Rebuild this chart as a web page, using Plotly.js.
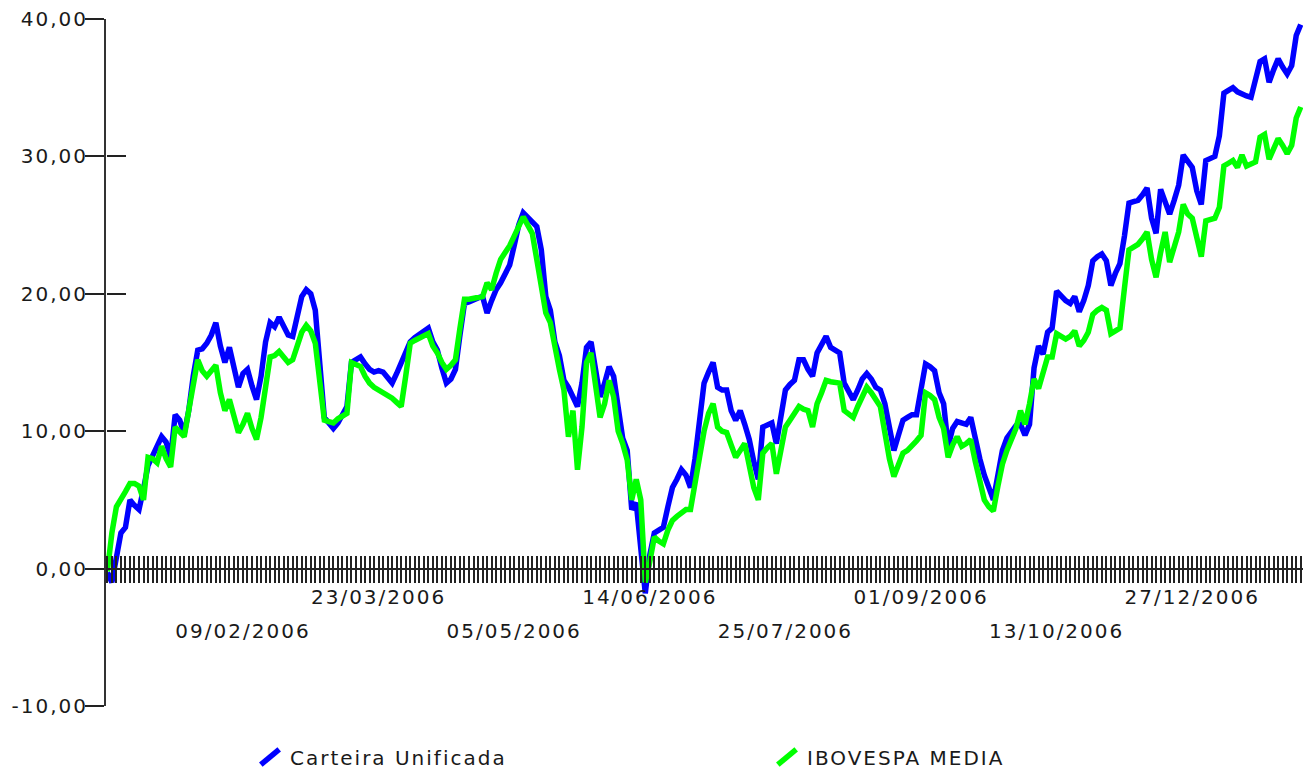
<!DOCTYPE html>
<html>
<head>
<meta charset="utf-8">
<script src="https://cdn.plot.ly/plotly-3.0.1.min.js"></script>
<style>
  html, body { margin: 0; padding: 0; background: #fff; }
  #chart { width: 1308px; height: 769px; }
  .xtick text, .x2tick text, .ytick text, .legendtext { letter-spacing: 2px; }
  .legendlines path { transform-box: fill-box; transform-origin: center; transform: rotate(-40deg) scaleX(0.8); }
</style>
</head>
<body>
<div id="chart"></div>
<script>
// Series values (percent), one per trading day
const carteira = [
  -0.3, -1.0, 0.8, 2.6, 3.0, 5.0, 4.6, 4.3, 5.8, 7.5,
  8.2, 9.0, 9.6, 9.2, 8.1, 11.2, 10.8, 9.8, 11.5, 14.0,
  15.9, 16.0, 16.4, 17.0, 17.9, 16.2, 15.0, 16.1, 14.5, 13.2,
  14.2, 14.5, 13.3, 12.3, 14.0, 16.5, 17.9, 17.6, 18.3, 17.6,
  17.0, 16.9, 18.5, 19.8, 20.3, 20.0, 18.8, 14.5, 11.0, 10.6,
  10.2, 10.6, 11.2, 11.8, 15.0, 15.2, 15.4, 14.9, 14.5, 14.3,
  14.4, 14.3, 13.9, 13.5, 14.2, 15.0, 15.7, 16.5, 16.8, 17.0,
  17.3, 17.5, 16.5, 15.9, 14.6, 13.5, 13.8, 14.5, 17.0, 19.3,
  19.4, 19.6, 19.7, 19.8, 18.6, 19.5, 20.3, 20.8, 21.5, 22.1,
  23.5, 25.0, 25.9, 25.6, 25.2, 24.9, 23.2, 19.8, 18.8, 16.5,
  15.5, 13.7, 13.2, 12.5, 11.8, 13.5, 16.1, 16.5, 14.5, 12.5,
  13.5, 14.7, 14.0, 11.8, 9.5, 8.6, 4.3, 4.8, 1.4, -1.8,
  1.0, 2.6, 2.8, 3.0, 4.5, 5.9, 6.5, 7.2, 6.8, 5.9,
  8.0, 10.6, 13.5, 14.3, 15.0, 13.2, 13.0, 13.0, 11.5, 10.8,
  11.5, 10.5, 9.4, 7.8, 6.5, 10.3, 10.5, 10.6, 9.1, 11.0,
  13.0, 13.4, 13.7, 15.2, 15.2, 14.5, 14.0, 15.7, 16.3, 16.9,
  16.1, 15.9, 15.7, 13.5, 12.8, 12.3, 13.0, 13.8, 14.2, 13.8,
  13.2, 13.0, 12.0, 10.2, 8.6, 9.7, 10.8, 11.0, 11.2, 11.2,
  13.0, 14.9, 14.7, 14.4, 12.8, 12.0, 8.9, 10.2, 10.7, 10.6,
  10.5, 11.0, 9.4, 8.0, 6.8, 5.8, 5.0, 6.8, 8.6, 9.5,
  9.9, 10.4, 10.5, 9.7, 10.5, 14.6, 16.2, 15.6, 17.2, 17.5,
  20.2, 19.8, 19.5, 19.3, 19.8, 18.7, 19.5, 20.6, 22.4, 22.7,
  22.9, 22.4, 20.6, 21.5, 22.2, 24.2, 26.6, 26.7, 26.8, 27.2,
  27.7, 25.5, 24.4, 27.6, 26.8, 25.8, 26.8, 27.9, 30.1, 29.6,
  29.2, 27.5, 26.5, 29.7, 29.8, 30.0, 31.5, 34.6, 34.8, 35.0,
  34.7, 34.5, 34.4, 34.3, 35.8, 36.9, 37.1, 35.4, 36.3, 37.1,
  36.5, 36.0, 36.6, 38.8, 39.6
];
const ibovespa = [
  -0.2, 2.6, 4.5, 5.0, 5.6, 6.2, 6.2, 6.0, 5.0, 8.1,
  8.0, 7.7, 8.9, 8.0, 7.4, 10.3, 10.0, 9.6, 11.5, 13.5,
  15.2, 14.4, 14.0, 14.4, 14.8, 12.8, 11.5, 12.3, 11.0, 9.9,
  10.5, 11.3, 10.2, 9.4, 11.0, 13.5, 15.4, 15.5, 15.8, 15.4,
  15.0, 15.2, 16.2, 17.2, 17.7, 17.3, 16.4, 13.5, 10.8, 10.7,
  10.6, 10.9, 11.1, 11.3, 15.0, 14.8, 14.7, 14.0, 13.5, 13.2,
  13.0, 12.9, 12.7, 12.4, 12.1, 11.8, 14.0, 16.4, 16.6, 16.8,
  17.0, 17.1, 16.2, 15.7, 15.0, 14.5, 14.8, 15.2, 17.5, 19.6,
  19.6, 19.7, 19.7, 19.8, 20.8, 20.3, 21.5, 22.5, 23.0, 23.5,
  24.2, 25.0, 25.6, 25.0, 24.4, 22.5, 20.8, 18.6, 17.9, 15.9,
  14.5, 13.0, 9.6, 11.5, 7.2, 10.3, 15.0, 15.7, 13.5, 11.0,
  12.0, 13.7, 12.5, 10.0, 9.1, 7.9, 5.0, 6.5, 5.0, -1.0,
  0.5, 2.3, 2.0, 1.8, 2.8, 3.5, 3.8, 4.0, 4.3, 4.3,
  6.0, 8.1, 10.0, 11.3, 12.0, 10.3, 10.0, 9.9, 9.0, 8.1,
  8.6, 9.1, 7.5, 5.9, 5.0, 8.4, 8.8, 9.1, 6.9, 8.5,
  10.3, 10.8, 11.3, 11.8, 11.6, 11.5, 10.3, 12.0, 12.8, 13.7,
  13.6, 13.5, 13.5, 11.5, 11.2, 11.0, 11.8, 12.6, 13.2, 12.8,
  12.2, 11.8, 9.9, 8.0, 6.7, 7.6, 8.4, 8.6, 8.9, 9.3,
  9.7, 12.8, 12.6, 12.3, 11.0, 10.2, 8.1, 9.0, 9.6, 8.9,
  9.1, 9.4, 7.8, 6.5, 5.0, 4.5, 4.2, 6.0, 7.6, 8.6,
  9.4, 10.2, 11.5, 10.5, 12.0, 13.8, 13.1, 14.3, 15.4, 15.4,
  17.1, 16.9, 16.7, 16.9, 17.3, 16.2, 16.6, 17.2, 18.5, 18.8,
  19.0, 18.8, 17.1, 17.3, 17.5, 20.4, 23.2, 23.4, 23.6, 24.0,
  24.5, 22.5, 21.2, 23.0, 24.5, 22.3, 23.5, 24.5, 26.5, 25.8,
  25.5, 24.0, 22.7, 25.3, 25.4, 25.5, 26.3, 29.3, 29.5, 29.7,
  29.2, 30.1, 29.3, 29.5, 29.6, 31.4, 31.6, 29.8, 30.5, 31.3,
  30.8, 30.2, 30.8, 32.8, 33.6
];
const seriesNames = ['Carteira Unificada', 'IBOVESPA MEDIA'];

// Date tick labels (every 30th trading day); upper row and lower row alternate
const dateLabels = ['09/02/2006', '23/03/2006', '05/05/2006', '14/06/2006',
                    '25/07/2006', '01/09/2006', '13/10/2006', '27/12/2006'];
const dateLabelIndex = [30, 60, 90, 120, 150, 180, 210, 240];

// Y tick values / labels (Brazilian decimal comma)
const yTickVals = [-10, 0, 10, 20, 30, 40];
const yTickText = ['-10,00', '0,00', '10,00', '20,00', '30,00', '40,00'];

const idx = carteira.map((_, i) => i);
const upperText = idx.map(() => '');
const lowerText = idx.map(() => '');
dateLabelIndex.forEach((p, k) => {
  if (k % 2 === 1) upperText[p] = dateLabels[k]; else lowerText[p] = dateLabels[k];
});

const FONT = 'DejaVu Sans, Arial, sans-serif';
const TXT = '#1a1a1a';
const xRange = [-0.3, 264.5];

const traces = [
  { x: idx, y: carteira, name: seriesNames[0], type: 'scatter', mode: 'lines',
    line: { color: '#0000ff', width: 5.5 }, xaxis: 'x', yaxis: 'y', hoverinfo: 'skip' },
  { x: idx, y: ibovespa, name: seriesNames[1], type: 'scatter', mode: 'lines',
    line: { color: '#00ff00', width: 5.5 }, xaxis: 'x2', yaxis: 'y2', hoverinfo: 'skip' }
];

const layout = {
  width: 1308, height: 769,
  margin: { l: 106, r: 5, t: 19, b: 63, pad: 0 },
  paper_bgcolor: '#ffffff', plot_bgcolor: '#ffffff',
  font: { family: FONT, size: 20, color: TXT },
  showlegend: true,
  legend: {
    orientation: 'h', xref: 'container', yref: 'container',
    x: 250 / 1308, y: 12 / 769, xanchor: 'left', yanchor: 'middle',
    entrywidth: 472, entrywidthmode: 'pixels',
    font: { family: FONT, size: 20, color: TXT },
    bgcolor: 'rgba(0,0,0,0)'
  },
  xaxis: {
    type: 'linear', range: xRange, anchor: 'free', position: 0.2,
    showgrid: false, zeroline: false,
    showline: true, linecolor: '#222', linewidth: 2,
    ticks: 'outside', ticklen: 13, tickwidth: 2, tickcolor: '#222',
    tickmode: 'array', tickvals: idx, ticktext: upperText,
    ticklabelstandoff: -3,
    tickfont: { family: FONT, size: 20, color: TXT }
  },
  xaxis2: {
    type: 'linear', range: xRange, overlaying: 'x', anchor: 'free', position: 0.2,
    showgrid: false, zeroline: false, showline: false,
    ticks: 'inside', ticklen: 13, tickwidth: 2, tickcolor: '#222',
    tickmode: 'array', tickvals: idx, ticktext: lowerText,
    ticklabelstandoff: 48,
    tickfont: { family: FONT, size: 20, color: TXT }
  },
  yaxis: {
    range: [-10, 40], showgrid: false, zeroline: false,
    showline: true, linecolor: '#333', linewidth: 2,
    ticks: 'outside', ticklen: 19, tickwidth: 2, tickcolor: '#222',
    tickmode: 'array', tickvals: yTickVals, ticktext: yTickText,
    ticklabelstandoff: -7,
    tickfont: { family: FONT, size: 20, color: TXT }
  },
  yaxis2: {
    range: [-10, 40], overlaying: 'y', anchor: 'free', position: 0, side: 'left',
    showgrid: false, zeroline: false, showline: false,
    ticks: 'inside', ticklen: 19, tickwidth: 2, tickcolor: '#222',
    tickmode: 'array', tickvals: yTickVals, showticklabels: false
  }
};

Plotly.newPlot('chart', traces, layout, { staticPlot: true, displayModeBar: false });
</script>
</body>
</html>
